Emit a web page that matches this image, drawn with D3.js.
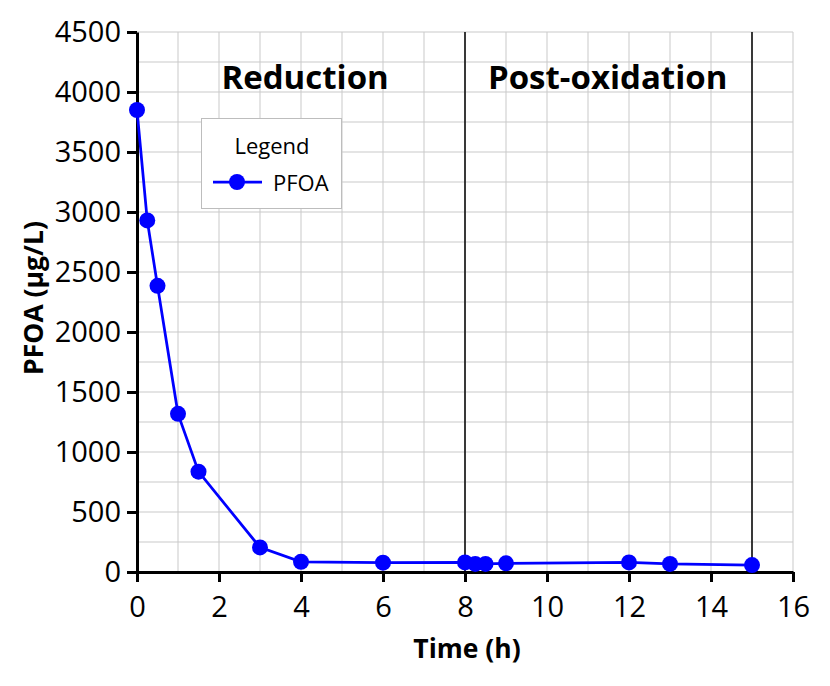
<!DOCTYPE html>
<html><head><meta charset="utf-8">
<script src="https://cdn.jsdelivr.net/npm/d3@7"></script>
<style>body{margin:0;background:#fff}svg{display:block}text{font-family:"Open Sans",sans-serif}</style>
</head><body><svg id="c" width="830" height="686"></svg>
<script>
const times = [0, 0.25, 0.5, 1, 1.5, 3, 4, 6, 8, 8.25, 8.5, 9, 12, 13, 15];
const pfoa = [3850, 2930, 2385, 1318, 836, 205, 85, 78, 80, 67, 67, 72, 80, 67, 58];
const xTicks = [0, 2, 4, 6, 8, 10, 12, 14, 16];
const yTicks = [0, 500, 1000, 1500, 2000, 2500, 3000, 3500, 4000, 4500];
const phaseBounds = [8, 15];
const phases = [{label: "Reduction", x: 4.1}, {label: "Post-oxidation", x: 11.48}];
const seriesName = "PFOA";

const svg = d3.select("#c");
const L = 137, R = 793, T = 32, B = 572;
const x = d3.scaleLinear().domain([0, 16]).range([L, R]);
const y = d3.scaleLinear().domain([0, 4500]).range([B, T]);

// grid
const g = svg.append("g");
g.selectAll("line.vx").data(d3.range(1, 17)).join("line")
  .attr("x1", d => x(d)).attr("x2", d => x(d)).attr("y1", T).attr("y2", B)
  .attr("stroke", "#c9c9c9").attr("stroke-width", 1);
g.selectAll("line.hy").data(d3.range(250, 4501, 250)).join("line")
  .attr("y1", d => y(d)).attr("y2", d => y(d)).attr("x1", L).attr("x2", R)
  .attr("stroke", "#c9c9c9").attr("stroke-width", 1);

// phase lines
svg.selectAll("line.ph").data(phaseBounds).join("line")
  .attr("x1", d => x(d)).attr("x2", d => x(d)).attr("y1", T).attr("y2", B)
  .attr("stroke", "#000").attr("stroke-width", 1.5);

svg.selectAll("text.ph").data(phases).join("text")
  .attr("x", d => x(d.x)).attr("y", 89).attr("text-anchor", "middle")
  .attr("font-weight", "bold").attr("font-size", 33).text(d => d.label);

// axes
const xa = svg.append("g").attr("transform", `translate(0,${B})`)
  .call(d3.axisBottom(x).tickValues(xTicks).tickSize(10).tickSizeOuter(0).tickPadding(14).tickFormat(d3.format("d")));
const ya = svg.append("g").attr("transform", `translate(${L},0)`)
  .call(d3.axisLeft(y).tickValues(yTicks).tickSize(10).tickSizeOuter(0).tickPadding(6).tickFormat(d3.format("d")));
[xa, ya].forEach(a => {
  a.select(".domain").attr("stroke", "#000").attr("stroke-width", 3);
  a.selectAll(".tick line").attr("stroke", "#000").attr("stroke-width", 3);
  a.selectAll(".tick text").attr("font-family", "Open Sans").attr("font-size", 29).attr("fill", "#000");
});
xa.selectAll(".tick text").attr("dy", "0.71em");

svg.append("text").attr("x", 467).attr("y", 658).attr("text-anchor", "middle")
  .attr("font-weight", "bold").attr("font-size", 26.5).text("Time (h)");
svg.append("text").attr("transform", "translate(43,298) rotate(-90)").attr("text-anchor", "middle")
  .attr("font-weight", "bold").attr("font-size", 26.5).text("PFOA (µg/L)");

// series
const pts = times.map((t, i) => [t, pfoa[i]]);
svg.append("path").datum(pts).attr("fill", "none").attr("stroke", "#0000ff").attr("stroke-width", 2.75)
  .attr("d", d3.line().x(d => x(d[0])).y(d => y(d[1])));
svg.selectAll("circle.p").data(pts).join("circle")
  .attr("cx", d => x(d[0])).attr("cy", d => y(d[1])).attr("r", 8).attr("fill", "#0000ff");

// legend
const lg = svg.append("g");
lg.append("rect").attr("x", 201.5).attr("y", 118.5).attr("width", 140).attr("height", 90)
  .attr("fill", "#fff").attr("stroke", "#bdbdbd").attr("stroke-width", 1);
lg.append("text").attr("x", 272).attr("y", 154).attr("text-anchor", "middle").attr("font-size", 22).text("Legend");
lg.append("line").attr("x1", 213).attr("x2", 262).attr("y1", 182).attr("y2", 182).attr("stroke", "#0000ff").attr("stroke-width", 2.75);
lg.append("circle").attr("cx", 237).attr("cy", 182).attr("r", 8).attr("fill", "#0000ff");
lg.append("text").attr("x", 273).attr("y", 191).attr("font-size", 22).text(seriesName);
</script></body></html>
